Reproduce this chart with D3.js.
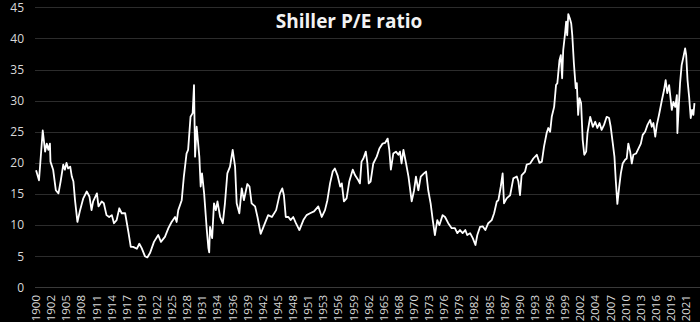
<!DOCTYPE html>
<html>
<head>
<meta charset="utf-8">
<script src="https://cdn.jsdelivr.net/npm/d3@7/dist/d3.min.js"></script>
<style>
  html, body { margin: 0; padding: 0; background: #000; }
  svg { display: block; }
</style>
</head>
<body>
<svg id="chart" width="700" height="322"></svg>
<script>
// Shiller cyclically adjusted P/E, sampled as (decimal year, ratio)
const years = [
  1900.0, 1900.55, 1901.25, 1901.7, 1902.0, 1902.3, 1902.6, 1902.7, 1903.2, 1903.7,
  1904.2, 1904.6, 1905.1, 1905.4, 1905.7, 1906.0, 1906.4, 1906.7, 1907.0, 1907.3,
  1907.75, 1908.25, 1908.85, 1909.5, 1910.0, 1910.4, 1910.7, 1911.4, 1911.7, 1912.3,
  1912.7, 1913.2, 1913.7, 1914.2, 1914.6, 1915.1, 1915.6, 1916.05, 1916.7, 1917.3,
  1917.75, 1918.2, 1918.9, 1919.35, 1919.8, 1920.4, 1920.85, 1921.35, 1922.1, 1922.9,
  1923.4, 1924.15, 1924.8, 1925.4, 1926.05, 1926.35, 1926.65, 1927.3, 1927.7, 1928.2,
  1928.5, 1928.95, 1929.35, 1929.6, 1929.8, 1930.1, 1930.6, 1930.85, 1931.1, 1931.5,
  1932.0, 1932.3, 1932.45, 1932.6, 1933.0, 1933.35, 1933.7, 1934.0, 1934.5, 1935.0,
  1935.4, 1935.85, 1936.35, 1936.85, 1937.3, 1937.6, 1938.1, 1938.55, 1938.95, 1939.6,
  1940.0, 1940.4, 1941.05, 1941.5, 1942.1, 1942.9, 1943.5, 1944.2, 1945.0, 1945.7,
  1946.15, 1946.45, 1946.8, 1947.3, 1947.7, 1948.2, 1948.7, 1949.35, 1950.1, 1950.7,
  1951.35, 1952.1, 1952.9, 1953.55, 1954.15, 1954.6, 1955.1, 1955.6, 1956.0, 1956.5,
  1957.0, 1957.3, 1957.7, 1958.2, 1958.7, 1959.35, 1959.8, 1960.4, 1960.7, 1961.0,
  1961.35, 1961.8, 1962.1, 1962.35, 1962.7, 1963.2, 1963.85, 1964.35, 1964.95, 1965.4,
  1965.9, 1966.2, 1966.5, 1966.95, 1967.45, 1967.9, 1968.2, 1968.5, 1968.85, 1969.35,
  1969.8, 1970.4, 1970.85, 1971.2, 1971.65, 1972.1, 1972.7, 1973.1, 1973.5, 1973.95,
  1974.35, 1974.75, 1975.2, 1975.6, 1976.2, 1976.65, 1977.25, 1977.9, 1978.5, 1978.95,
  1979.45, 1979.95, 1980.45, 1980.8, 1981.35, 1981.85, 1982.35, 1982.7, 1983.2, 1983.7,
  1984.2, 1984.75, 1985.4, 1985.85, 1986.35, 1986.65, 1987.1, 1987.45, 1987.7, 1988.2,
  1988.85, 1989.45, 1990.1, 1990.4, 1990.7, 1991.0, 1991.65, 1991.95, 1992.6, 1993.2,
  1993.85, 1994.35, 1994.8, 1995.2, 1995.7, 1996.0, 1996.35, 1996.65, 1997.1, 1997.45,
  1997.7, 1998.1, 1998.35, 1998.6, 1998.8, 1999.15, 1999.35, 1999.55, 1999.75, 2000.05,
  2000.3, 2000.5, 2000.8, 2001.15, 2001.35, 2001.6, 2001.85, 2002.15, 2002.45, 2002.75,
  2003.1, 2003.35, 2003.85, 2004.35, 2004.8, 2005.2, 2005.6, 2006.0, 2006.45, 2006.95,
  2007.4, 2007.7, 2008.1, 2008.4, 2008.65, 2008.95, 2009.3, 2009.6, 2009.95, 2010.4,
  2010.7, 2011.0, 2011.35, 2011.65, 2011.95, 2012.45, 2012.9, 2013.35, 2013.7, 2014.15,
  2014.6, 2015.1, 2015.4, 2015.7, 2016.05, 2016.35, 2016.75, 2017.3, 2017.7, 2018.0,
  2018.3, 2018.65, 2018.95, 2019.15, 2019.45, 2019.8, 2020.1, 2020.2, 2020.45, 2020.7,
  2021.0, 2021.35, 2021.65, 2021.85, 2022.1, 2022.4, 2022.7, 2022.95, 2023.2, 2023.4
];
const cape = [
  18.8, 17.2, 25.2, 21.8, 23.1, 22.1, 23.1, 20.2, 18.9, 15.6,
  15.1, 17.0, 19.7, 18.9, 20.0, 19.1, 19.4, 17.8, 17.0, 14.0,
  10.5, 12.4, 14.3, 15.4, 14.6, 12.4, 13.8, 15.1, 13.0, 13.8,
  13.5, 11.6, 11.3, 11.6, 10.3, 10.8, 12.7, 11.9, 11.9, 8.9,
  6.5, 6.5, 6.2, 7.0, 6.3, 5.0, 4.8, 5.5, 7.3, 8.4,
  7.3, 8.1, 9.5, 10.5, 11.3, 10.5, 12.4, 14.0, 17.8, 21.5,
  22.1, 27.4, 28.0, 32.5, 21.0, 25.8, 21.0, 16.2, 18.3, 15.1,
  9.2, 6.3, 5.6, 9.7, 7.9, 13.5, 12.4, 13.8, 11.3, 10.3,
  13.5, 18.3, 19.4, 22.1, 19.4, 13.5, 11.9, 15.9, 14.0, 16.6,
  16.2, 13.5, 13.0, 11.3, 8.6, 10.3, 11.6, 11.3, 12.4, 15.1,
  15.9, 14.8, 11.3, 11.3, 10.8, 11.3, 10.3, 9.2, 10.8, 11.6,
  11.9, 12.2, 13.0, 11.3, 12.4, 14.0, 16.7, 18.6, 19.1, 18.0,
  16.2, 16.7, 13.8, 14.3, 17.0, 18.9, 18.0, 17.2, 16.7, 20.2,
  20.7, 21.8, 19.9, 16.7, 17.0, 19.9, 21.0, 22.3, 23.1, 23.2,
  23.9, 22.1, 18.9, 21.5, 21.8, 21.3, 21.8, 19.9, 22.1, 19.9,
  17.8, 13.8, 15.6, 17.8, 15.6, 17.8, 18.3, 18.6, 15.6, 13.5,
  10.8, 8.4, 10.8, 10.0, 11.6, 11.3, 10.3, 9.5, 9.5, 8.7,
  9.2, 8.7, 9.2, 8.4, 8.7, 7.9, 6.8, 8.4, 9.7, 9.8,
  9.2, 10.3, 10.8, 11.9, 13.8, 14.0, 16.2, 18.3, 13.5, 14.3,
  14.8, 17.5, 17.8, 17.0, 14.8, 18.0, 18.6, 19.7, 19.9, 20.7,
  21.3, 20.0, 20.2, 22.6, 24.8, 25.6, 25.0, 27.4, 29.0, 32.5,
  32.8, 36.5, 37.3, 33.6, 38.1, 40.8, 42.7, 40.5, 43.9, 43.2,
  42.4, 40.5, 36.0, 32.0, 32.8, 27.7, 30.4, 29.6, 23.7, 21.3,
  21.8, 24.8, 27.4, 25.8, 26.6, 25.6, 26.4, 25.3, 26.1, 27.4,
  27.2, 25.8, 23.1, 21.0, 17.2, 13.4, 16.2, 18.3, 19.9, 20.5,
  20.7, 23.1, 21.8, 19.9, 21.3, 21.5, 22.3, 23.1, 24.5, 25.0,
  26.1, 26.9, 25.8, 26.4, 24.2, 26.1, 27.7, 30.1, 31.7, 33.3,
  31.2, 32.5, 30.1, 28.5, 29.8, 29.0, 30.9, 24.8, 29.0, 32.8,
  35.7, 37.1, 38.4, 37.3, 33.3, 30.6, 27.2, 28.5, 27.7, 29.6
];
const yTicks = [0, 5, 10, 15, 20, 25, 30, 35, 40, 45];
const xLabels = [
  "1900", "1902", "1905", "1908", "1911", "1914", "1917", "1919", "1922", "1925",
  "1928", "1931", "1934", "1936", "1939", "1942", "1945", "1948", "1951", "1953",
  "1956", "1959", "1962", "1965", "1968", "1970", "1973", "1976", "1979", "1982",
  "1985", "1987", "1990", "1993", "1996", "1999", "2002", "2004", "2007", "2010",
  "2013", "2016", "2019", "2021"
];
const chartTitle = "Shiller P/E ratio";

// Category labels fall every 34 monthly periods from January 1900
const labelStepYears = 34 / 12;
const firstYear = 1900;

const svg = d3.select("#chart");
const W = 700, H = 322;
const plotLeft = 35, plotRight = 695, plotTop = 7.3, plotBottom = 287.3;

svg.append("rect").attr("width", W).attr("height", H).attr("fill", "#000");

const x = d3.scaleLinear().domain([1899.8, 2023.5]).range([plotLeft, plotRight]);
const y = d3.scaleLinear().domain([0, 45]).range([plotBottom, plotTop]);

// Horizontal gridlines
svg.append("g")
  .selectAll("line")
  .data(yTicks)
  .join("line")
  .attr("x1", plotLeft).attr("x2", W)
  .attr("y1", d => Math.round(y(d)) + 0.5)
  .attr("y2", d => Math.round(y(d)) + 0.5)
  .attr("stroke", d => d === 0 ? "#3a3a3a" : "#2c2c2c")
  .attr("stroke-width", 1.2);

// Y axis labels
const yAxis = d3.axisLeft(y).tickValues(yTicks).tickSize(0).tickPadding(0);
const gy = svg.append("g").attr("transform", `translate(${24},0)`).call(yAxis);
gy.select(".domain").remove();
gy.selectAll("text")
  .attr("fill", "#d9d9d9")
  .style("font-family", "'Open Sans', sans-serif")
  .style("font-size", "12px");

// X axis category labels, rotated
const gx = svg.append("g");
gx.selectAll("text")
  .data(xLabels)
  .join("text")
  .attr("transform", (d, i) => `translate(${x(firstYear + i * labelStepYears) + 4},${295}) rotate(-90)`)
  .attr("text-anchor", "end")
  .attr("fill", "#d9d9d9")
  .style("font-family", "'Open Sans', sans-serif")
  .style("font-size", "11.5px")
  .text(d => d);

// Ratio line
const series = years.map((yr, i) => [yr, cape[i]]);
const line = d3.line()
  .x(d => x(d[0]))
  .y(d => y(d[1]))
  .curve(d3.curveLinear);

svg.append("path")
  .datum(series)
  .attr("fill", "none")
  .attr("stroke", "#ffffff")
  .attr("stroke-width", 1.8)
  .attr("stroke-linejoin", "round")
  .attr("d", line);

// Title
svg.append("text")
  .attr("x", 349)
  .attr("y", 28)
  .attr("text-anchor", "middle")
  .attr("fill", "#f2f2f2")
  .style("font-family", "'Open Sans', sans-serif")
  .style("font-weight", "700")
  .style("font-size", "19px")
  .text(chartTitle);
</script>
</body>
</html>
